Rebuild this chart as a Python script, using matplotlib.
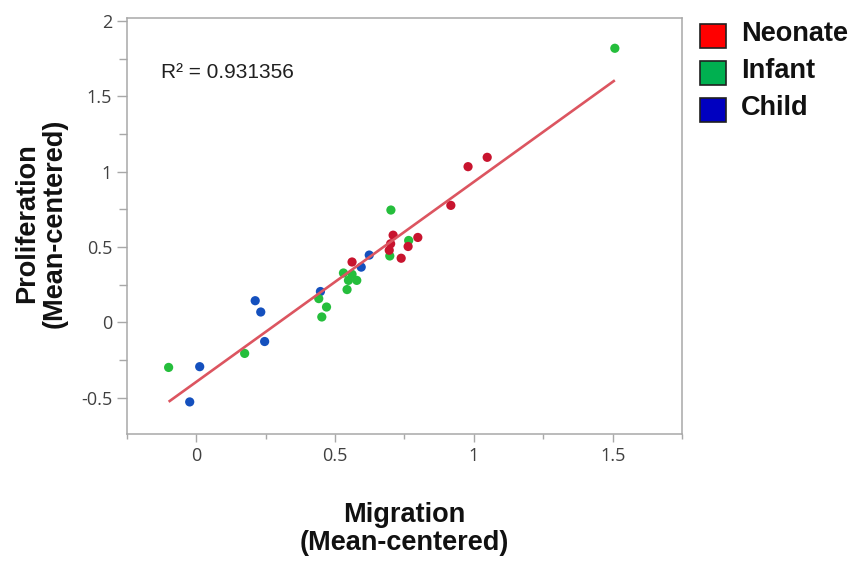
import numpy as np
import matplotlib
matplotlib.use("Agg")
import matplotlib.pyplot as plt
from matplotlib.patches import Rectangle
from matplotlib.ticker import MultipleLocator, FuncFormatter

# ---- data ----
categories = ["Neonate", "Infant", "Child"]
point_colors = {"Neonate": "#C8142E", "Infant": "#25BE3C", "Child": "#1450BE"}
legend_colors = {"Neonate": "#FF0000", "Infant": "#00B050", "Child": "#0000C0"}

neonate_x = [1.048, 0.979, 0.917, 0.798, 0.709, 0.700, 0.695, 0.763, 0.738, 0.561]
neonate_y = [1.095, 1.033, 0.776, 0.563, 0.578, 0.521, 0.478, 0.503, 0.425, 0.400]

infant_x = [1.508, 0.701, 0.765, 0.697, 0.530, 0.561, 0.548, 0.578, 0.543, 0.441, 0.469, 0.452, 0.174, -0.100]
infant_y = [1.819, 0.745, 0.543, 0.440, 0.327, 0.318, 0.278, 0.278, 0.217, 0.157, 0.101, 0.035, -0.207, -0.300]

child_x = [0.623, 0.594, 0.447, 0.212, 0.232, 0.246, 0.012, -0.024]
child_y = [0.446, 0.366, 0.204, 0.143, 0.068, -0.128, -0.295, -0.529]

r2_text = "R² = 0.931356"
x_label = "Migration\n(Mean-centered)"
y_label = "Proliferation\n(Mean-centered)"

series = {
    "Neonate": (neonate_x, neonate_y),
    "Infant": (infant_x, infant_y),
    "Child": (child_x, child_y),
}

W, H = 856, 567
PT = 72 / 100  # points per pixel at 100 dpi
fig = plt.figure(figsize=(W / 100, H / 100), dpi=100)

def fx(px):
    return px / W

def fy(py):
    return 1 - py / H

ax_l, ax_r, ax_t, ax_b = 127, 682, 18, 434
ax = fig.add_axes([fx(ax_l), fy(ax_b), fx(ax_r - ax_l), (ax_b - ax_t) / H])

for cat in ["Child", "Infant", "Neonate"]:
    xs, ys = series[cat]
    ax.scatter(xs, ys, s=44, color=point_colors[cat], edgecolors="none", zorder=2)

all_x, all_y = [], []
for cat in categories:
    xs, ys = series[cat]
    all_x += xs
    all_y += ys
all_x = np.array(all_x)
all_y = np.array(all_y)
slope, intercept = np.polyfit(all_x, all_y, 1)
xl = np.array([all_x.min(), all_x.max()])
ax.plot(xl, slope * xl + intercept, color="#DC5560", lw=1.9, zorder=3, solid_capstyle="butt")

ax.set_xlim(-0.25, 1.75)
ax.set_ylim(-0.742, 2.02)

ax.xaxis.set_major_locator(MultipleLocator(0.5))
ax.xaxis.set_minor_locator(MultipleLocator(0.25))
ax.yaxis.set_major_locator(MultipleLocator(0.5))
ax.yaxis.set_minor_locator(MultipleLocator(0.25))

fmt = FuncFormatter(lambda v, p: "%g" % round(v, 2))
ax.xaxis.set_major_formatter(fmt)
ax.yaxis.set_major_formatter(fmt)

for s in ax.spines.values():
    s.set_color("#A8A8A8")
    s.set_linewidth(1.1)

ax.tick_params(axis="both", which="both", direction="out", width=1.0, color="#A8A8A8")
ax.tick_params(axis="x", which="major", length=8 * PT, pad=5 * PT)
ax.tick_params(axis="x", which="minor", length=5 * PT)
ax.tick_params(axis="y", which="major", length=10 * PT, pad=5 * PT)
ax.tick_params(axis="y", which="minor", length=8 * PT)
ax.tick_params(axis="both", which="major", labelsize=13, labelcolor="#404040")
for lbl in ax.get_xticklabels() + ax.get_yticklabels():
    lbl.set_fontfamily(["Open Sans", "DejaVu Sans"])

fig.text(fx(161), fy(73), r2_text, fontsize=15,
         family=["Liberation Sans Narrow", "Liberation Sans", "DejaVu Sans"],
         color="#202020", va="center", ha="left")

fig.text(fx(404), fy(529), x_label, ha="center", va="center", fontsize=19.5,
         fontweight="bold", family=["Liberation Sans", "DejaVu Sans"],
         linespacing=1.1, color="#111111")
fig.text(fx(41), fy(223), y_label, ha="center", va="center", fontsize=19.5,
         fontweight="bold", family=["Liberation Sans", "DejaVu Sans"],
         linespacing=1.1, rotation=90, color="#111111")

# legend
for i, cat in enumerate(categories):
    top = 24 + i * 37
    fig.add_artist(Rectangle((fx(700), fy(top + 24)), 26 / W, 24 / H,
                             transform=fig.transFigure, facecolor=legend_colors[cat],
                             edgecolor="#202020", lw=1.2))
    fig.text(fx(741), fy(top + 10), cat, ha="left", va="center", fontsize=19.5,
             fontweight="bold", family=["Liberation Sans", "DejaVu Sans"], color="#111111")

fig.savefig("out.png", dpi=100)
